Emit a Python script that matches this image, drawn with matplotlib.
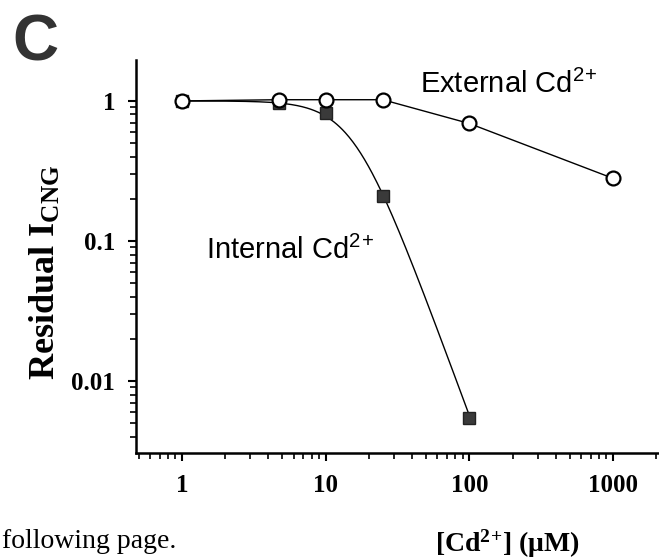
import numpy as np
import matplotlib
matplotlib.use("Agg")
import matplotlib.pyplot as plt
from matplotlib.ticker import LogLocator, FixedLocator, FixedFormatter, NullFormatter

plt.rcParams['mathtext.default'] = 'regular'

# Cd2+ concentration (uM) and residual CNG current
ext_conc = [1, 4.7, 10, 25, 100, 1000]
ext_resid = [1.0, 1.02, 1.02, 1.02, 0.69, 0.28]

int_conc = [1, 4.7, 10, 25, 100]
int_resid = [1.0, 0.96, 0.82, 0.21, 0.0054]

x_ticks = [1, 10, 100, 1000]
x_ticklabels = ["1", "10", "100", "1000"]
y_ticks = [0.01, 0.1, 1]
y_ticklabels = ["0.01", "0.1", "1"]

# Hill fit for internal block: log(1/I - 1) = n*log(x) - n*log(K)
xc = np.array(int_conc, dtype=float)
yc = np.array(int_resid, dtype=float)
sel = (yc > 0) & (yc < 1)
n_hill, b = np.polyfit(np.log(xc[sel]), np.log(1 / yc[sel] - 1), 1)
K = np.exp(-b / n_hill)
xfit = np.logspace(np.log10(xc.min()), np.log10(xc.max()), 300)
yfit = 1 / (1 + (xfit / K) ** n_hill)

fig = plt.figure(figsize=(6.59, 5.59), dpi=100)
ax = fig.add_axes([136 / 659, 1 - 453 / 559, 1 - 136 / 659, (453 - 60) / 559])

ax.plot(xfit, yfit, color='black', lw=1.0, zorder=2)
ax.plot(int_conc, int_resid, ls='none', marker='s', ms=9, mfc='#3a3a3a',
        mec='#222222', mew=1.0, zorder=3)
ax.plot(ext_conc, ext_resid, color='black', lw=1.0, marker='o', ms=10,
        mfc='white', mec='black', mew=1.6, zorder=4)

ax.set_xscale('log')
ax.set_yscale('log')
ax.set_xlim(0.479, 2090)
ax.set_ylim(0.00306, 1.96)

for s in ['top', 'right']:
    ax.spines[s].set_visible(False)
for s in ['left', 'bottom']:
    ax.spines[s].set_linewidth(1.8)

ax.xaxis.set_major_locator(FixedLocator(x_ticks))
ax.xaxis.set_major_formatter(FixedFormatter(x_ticklabels))
ax.yaxis.set_major_locator(FixedLocator(y_ticks))
ax.yaxis.set_major_formatter(FixedFormatter(y_ticklabels))
ax.xaxis.set_minor_locator(LogLocator(base=10, subs=np.arange(2, 10), numticks=20))
ax.yaxis.set_minor_locator(LogLocator(base=10, subs=np.arange(2, 10), numticks=20))
ax.xaxis.set_minor_formatter(NullFormatter())
ax.yaxis.set_minor_formatter(NullFormatter())

ax.tick_params(which='major', direction='out', length=6, width=1.5, pad=9)
ax.tick_params(which='minor', direction='out', length=4, width=1.2)
for lab in ax.get_xticklabels() + ax.get_yticklabels():
    lab.set_fontfamily('Liberation Serif')
    lab.set_fontweight('bold')
    lab.set_fontsize(18)

ax.set_ylabel(r'Residual I$_{CNG}$', fontfamily='Liberation Serif',
              fontweight='bold', fontsize=26)
ax.yaxis.set_label_coords(-0.14, 0.46)
ax.set_xlabel(r'[Cd$^{2}$$^{+}$] ($\mu$M)', fontfamily='Liberation Serif',
              fontweight='bold', fontsize=20)
ax.xaxis.set_label_coords(0.71, -0.19)

ax.text(420 / 659, 1 - 93 / 559, r'External Cd$^{2}$$^{+}$', transform=fig.transFigure,
        fontfamily='Liberation Sans', fontsize=21, va='baseline')
ax.text(206 / 659, 1 - 259 / 559, r'Internal Cd$^{2}$$^{+}$', transform=fig.transFigure,
        fontfamily='Liberation Sans', fontsize=21, va='baseline')

fig.text(12 / 659, 1 - 61 / 559, 'C', fontfamily='Liberation Sans', fontweight='bold',
         fontsize=46, color='#333333', va='baseline')
fig.text(2 / 659, 1 - 548 / 559, 'following page.', fontfamily='Liberation Serif',
         fontsize=20, va='baseline')

fig.savefig('out.png', dpi=100)
